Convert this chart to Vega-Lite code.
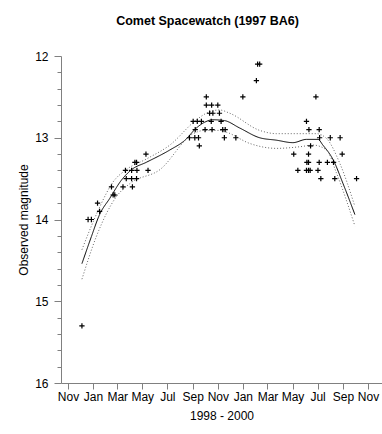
{
  "$schema": "https://vega.github.io/schema/vega-lite/v6.json",
  "width": 321,
  "height": 327,
  "autosize": "none",
  "padding": {"left": 61, "top": 56, "right": 0, "bottom": 51},
  "background": "white",
  "config": {
    "view": {"stroke": null},
    "font": "Liberation Sans",
    "axis": {"labelFont": "Liberation Sans", "titleFont": "Liberation Sans", "labelColor": "black", "titleColor": "black", "domainColor": "#808080", "tickColor": "#808080", "titleFontWeight": "normal"}
  },
  "title": {"text": "Comet Spacewatch (1997 BA6)", "font": "Liberation Sans", "fontSize": 12.5, "fontWeight": "bold", "anchor": "middle", "frame": "group", "dx": -14, "offset": 23, "color": "black"},
  "datasets": {
    "points": [
      {"date": "1998-12-05", "mag": 15.3},
      {"date": "1998-12-20", "mag": 14.0},
      {"date": "1998-12-28", "mag": 14.0},
      {"date": "1999-01-12", "mag": 13.8},
      {"date": "1999-01-17", "mag": 13.9},
      {"date": "1999-02-15", "mag": 13.6},
      {"date": "1999-02-19", "mag": 13.7},
      {"date": "1999-02-23", "mag": 13.7},
      {"date": "1999-03-15", "mag": 13.6},
      {"date": "1999-03-21", "mag": 13.4},
      {"date": "1999-03-23", "mag": 13.5},
      {"date": "1999-04-05", "mag": 13.4},
      {"date": "1999-04-05", "mag": 13.5},
      {"date": "1999-04-07", "mag": 13.6},
      {"date": "1999-04-13", "mag": 13.3},
      {"date": "1999-04-17", "mag": 13.3},
      {"date": "1999-04-17", "mag": 13.5},
      {"date": "1999-04-18", "mag": 13.4},
      {"date": "1999-05-10", "mag": 13.2},
      {"date": "1999-05-15", "mag": 13.4},
      {"date": "1999-08-24", "mag": 13.0},
      {"date": "1999-09-06", "mag": 13.0},
      {"date": "1999-09-15", "mag": 13.0},
      {"date": "1999-09-17", "mag": 13.1},
      {"date": "1999-09-07", "mag": 12.9},
      {"date": "1999-10-01", "mag": 12.9},
      {"date": "1999-10-18", "mag": 12.9},
      {"date": "1999-11-13", "mag": 12.9},
      {"date": "1999-11-19", "mag": 12.9},
      {"date": "1999-09-02", "mag": 12.8},
      {"date": "1999-09-12", "mag": 12.8},
      {"date": "1999-09-22", "mag": 12.8},
      {"date": "1999-10-16", "mag": 12.8},
      {"date": "1999-11-09", "mag": 12.8},
      {"date": "1999-10-12", "mag": 12.7},
      {"date": "1999-10-20", "mag": 12.7},
      {"date": "1999-11-05", "mag": 12.7},
      {"date": "1999-10-04", "mag": 12.6},
      {"date": "1999-10-17", "mag": 12.6},
      {"date": "1999-11-01", "mag": 12.6},
      {"date": "1999-10-04", "mag": 12.5},
      {"date": "1999-11-17", "mag": 13.0},
      {"date": "1999-12-15", "mag": 13.0},
      {"date": "2000-01-01", "mag": 12.5},
      {"date": "2000-02-03", "mag": 12.3},
      {"date": "2000-02-06", "mag": 12.1},
      {"date": "2000-02-11", "mag": 12.1},
      {"date": "2000-06-27", "mag": 12.5},
      {"date": "2000-06-04", "mag": 12.8},
      {"date": "2000-06-10", "mag": 12.9},
      {"date": "2000-07-05", "mag": 12.9},
      {"date": "2000-07-06", "mag": 13.0},
      {"date": "2000-08-01", "mag": 13.0},
      {"date": "2000-08-25", "mag": 13.0},
      {"date": "2000-06-14", "mag": 13.1},
      {"date": "2000-05-04", "mag": 13.2},
      {"date": "2000-06-09", "mag": 13.2},
      {"date": "2000-08-30", "mag": 13.2},
      {"date": "2000-06-05", "mag": 13.3},
      {"date": "2000-06-09", "mag": 13.3},
      {"date": "2000-07-05", "mag": 13.3},
      {"date": "2000-07-25", "mag": 13.3},
      {"date": "2000-08-09", "mag": 13.3},
      {"date": "2000-05-14", "mag": 13.4},
      {"date": "2000-06-04", "mag": 13.4},
      {"date": "2000-06-09", "mag": 13.4},
      {"date": "2000-06-13", "mag": 13.4},
      {"date": "2000-07-02", "mag": 13.4},
      {"date": "2000-07-09", "mag": 13.5},
      {"date": "2000-08-12", "mag": 13.5},
      {"date": "2000-10-04", "mag": 13.5}
    ],
    "curves": [
      {"series": "fit", "date": "1998-12-05", "mag": 14.54},
      {"series": "fit", "date": "1998-12-28", "mag": 14.21},
      {"series": "fit", "date": "1999-01-17", "mag": 13.94},
      {"series": "fit", "date": "1999-02-11", "mag": 13.74},
      {"series": "fit", "date": "1999-03-11", "mag": 13.52},
      {"series": "fit", "date": "1999-04-05", "mag": 13.39},
      {"series": "fit", "date": "1999-05-11", "mag": 13.30},
      {"series": "fit", "date": "1999-07-07", "mag": 13.15},
      {"series": "fit", "date": "1999-08-13", "mag": 13.03},
      {"series": "fit", "date": "1999-09-10", "mag": 12.88},
      {"series": "fit", "date": "1999-09-30", "mag": 12.81},
      {"series": "fit", "date": "1999-10-20", "mag": 12.78},
      {"series": "fit", "date": "1999-11-17", "mag": 12.79},
      {"series": "fit", "date": "1999-12-24", "mag": 12.88},
      {"series": "fit", "date": "2000-02-11", "mag": 13.00},
      {"series": "fit", "date": "2000-03-23", "mag": 13.03},
      {"series": "fit", "date": "2000-05-02", "mag": 13.06},
      {"series": "fit", "date": "2000-06-04", "mag": 13.02},
      {"series": "fit", "date": "2000-07-02", "mag": 13.02},
      {"series": "fit", "date": "2000-07-14", "mag": 13.09},
      {"series": "fit", "date": "2000-08-08", "mag": 13.27},
      {"series": "fit", "date": "2000-09-01", "mag": 13.56},
      {"series": "fit", "date": "2000-09-30", "mag": 13.94},
      {"series": "upper", "date": "1998-12-05", "mag": 14.37},
      {"series": "upper", "date": "1998-12-28", "mag": 14.08},
      {"series": "upper", "date": "1999-01-17", "mag": 13.85},
      {"series": "upper", "date": "1999-02-19", "mag": 13.54},
      {"series": "upper", "date": "1999-03-23", "mag": 13.39},
      {"series": "upper", "date": "1999-05-11", "mag": 13.26},
      {"series": "upper", "date": "1999-07-07", "mag": 13.09},
      {"series": "upper", "date": "1999-09-10", "mag": 12.78},
      {"series": "upper", "date": "1999-10-04", "mag": 12.70},
      {"series": "upper", "date": "1999-11-05", "mag": 12.66},
      {"series": "upper", "date": "1999-11-30", "mag": 12.70},
      {"series": "upper", "date": "2000-02-11", "mag": 12.91},
      {"series": "upper", "date": "2000-03-23", "mag": 12.95},
      {"series": "upper", "date": "2000-05-19", "mag": 12.95},
      {"series": "upper", "date": "2000-06-28", "mag": 12.95},
      {"series": "upper", "date": "2000-07-23", "mag": 13.01},
      {"series": "upper", "date": "2000-08-24", "mag": 13.31},
      {"series": "upper", "date": "2000-09-30", "mag": 13.84},
      {"series": "lower", "date": "1998-12-05", "mag": 14.73},
      {"series": "lower", "date": "1999-01-09", "mag": 14.21},
      {"series": "lower", "date": "1999-02-27", "mag": 13.72},
      {"series": "lower", "date": "1999-04-01", "mag": 13.56},
      {"series": "lower", "date": "1999-06-13", "mag": 13.39},
      {"series": "lower", "date": "1999-09-02", "mag": 12.95},
      {"series": "lower", "date": "1999-09-30", "mag": 12.91},
      {"series": "lower", "date": "1999-11-05", "mag": 12.91},
      {"series": "lower", "date": "1999-11-21", "mag": 12.93},
      {"series": "lower", "date": "2000-01-18", "mag": 13.07},
      {"series": "lower", "date": "2000-03-23", "mag": 13.13},
      {"series": "lower", "date": "2000-05-19", "mag": 13.11},
      {"series": "lower", "date": "2000-06-20", "mag": 13.09},
      {"series": "lower", "date": "2000-07-23", "mag": 13.15},
      {"series": "lower", "date": "2000-08-16", "mag": 13.43},
      {"series": "lower", "date": "2000-09-30", "mag": 14.08}
    ]
  },
  "encoding": {
    "x": {
      "field": "date", "type": "temporal",
      "scale": {"type": "utc", "domain": [{"year": 1998, "month": 10, "date": 15, "utc": true}, {"year": 2000, "month": 12, "date": 5, "utc": true}]},
      "axis": {
        "title": "1998 - 2000", "titleFontSize": 12, "titlePadding": 8,
        "format": "%b", "labelFontSize": 12, "labelPadding": 2, "tickSize": 6, "grid": false, "labelOverlap": false, "labelFlush": false,
        "values": [
          {"year": 1998, "month": 11, "date": 1, "utc": true},
          {"year": 1999, "month": 1, "date": 1, "utc": true},
          {"year": 1999, "month": 3, "date": 1, "utc": true},
          {"year": 1999, "month": 5, "date": 1, "utc": true},
          {"year": 1999, "month": 7, "date": 1, "utc": true},
          {"year": 1999, "month": 9, "date": 1, "utc": true},
          {"year": 1999, "month": 11, "date": 1, "utc": true},
          {"year": 2000, "month": 1, "date": 1, "utc": true},
          {"year": 2000, "month": 3, "date": 1, "utc": true},
          {"year": 2000, "month": 5, "date": 1, "utc": true},
          {"year": 2000, "month": 7, "date": 1, "utc": true},
          {"year": 2000, "month": 9, "date": 1, "utc": true},
          {"year": 2000, "month": 11, "date": 1, "utc": true}
        ]
      }
    },
    "y": {
      "field": "mag", "type": "quantitative",
      "scale": {"domain": [12, 16], "reverse": true, "nice": false, "zero": false},
      "axis": {
        "title": "Observed magnitude", "titleFontSize": 12, "titlePadding": 4,
        "labelFontSize": 12, "labelPadding": 6, "grid": false, "labelOverlap": false, "labelFlush": false,
        "values": [12, 12.2, 12.4, 12.6, 12.8, 13, 13.2, 13.4, 13.6, 13.8, 14, 14.2, 14.4, 14.6, 14.8, 15, 15.2, 15.4, 15.6, 15.8, 16],
        "labelExpr": "round(datum.value) === datum.value ? format(datum.value, 'd') : ''",
        "tickSize": {"condition": {"test": "round(datum.value) === datum.value", "value": 7}, "value": 4}
      }
    }
  },
  "layer": [
    {
      "mark": {"type": "rule", "color": "#808080", "strokeWidth": 1},
      "encoding": {"y": {"datum": 12}}
    },
    {
      "data": {"name": "curves"},
      "mark": {"type": "line", "strokeWidth": 1, "interpolate": "monotone"},
      "encoding": {
        "detail": {"field": "series"},
        "color": {"field": "series", "scale": {"domain": ["fit", "upper", "lower"], "range": ["#000000", "#666666", "#666666"]}, "legend": null},
        "strokeDash": {"field": "series", "scale": {"domain": ["fit", "upper", "lower"], "range": [[1, 0], [1, 2], [1, 2]]}, "legend": null}
      }
    },
    {
      "data": {"name": "points"},
      "mark": {"type": "point", "shape": "M-1,0L1,0M0,-1L0,1", "size": 28, "filled": false, "stroke": "black", "strokeWidth": 1.2, "opacity": 1}
    }
  ]
}
